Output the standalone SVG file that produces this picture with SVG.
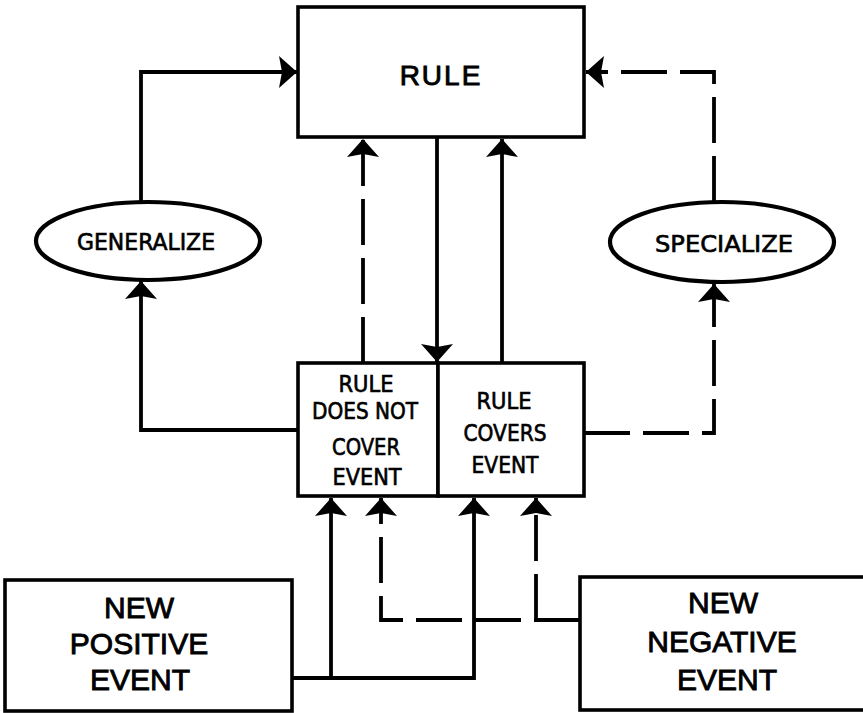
<svg xmlns="http://www.w3.org/2000/svg" width="863" height="713" viewBox="0 0 863 713">
<style>
.box{fill:#fff;stroke:#000;stroke-width:3.6}
.ell{fill:#fff;stroke:#000;stroke-width:4.2}
.big{font-family:"Liberation Sans",Arial,sans-serif;font-size:30px;fill:#000;stroke:#000;stroke-width:0.9;text-anchor:middle}
.sm{font-family:"DejaVu Sans Condensed","DejaVu Sans",sans-serif;font-stretch:condensed;font-size:23px;fill:#000;stroke:#000;stroke-width:0.6;text-anchor:middle}
.ln{fill:none;stroke:#000;stroke-width:3.8;stroke-linejoin:miter}
.ds{stroke-dasharray:46 13}
</style>
<defs>
<marker id="ah" markerUnits="userSpaceOnUse" viewBox="-20 -17 21 34" refX="0" refY="0" markerWidth="21" markerHeight="34" orient="auto">
<path d="M0,0 L-18,-16 L-15,0 L-18,16 Z" fill="#000"/>
</marker>
</defs>
<rect width="863" height="713" fill="#fff"/>
<g id="connectors">
<path class="ln" d="M141,202 V72 H297" marker-end="url(#ah)"/>
<path class="ln" d="M298,430 H141 V281" marker-end="url(#ah)"/>
<path class="ln ds" d="M363,363 V139" marker-end="url(#ah)"/>
<path class="ln" d="M437,137 V362" marker-end="url(#ah)"/>
<path class="ln" d="M502,363 V139" marker-end="url(#ah)"/>
<path class="ln ds" d="M714,202 V72 H586" marker-end="url(#ah)"/>
<path class="ln ds" d="M584,433 H714 V284" marker-end="url(#ah)"/>
<path class="ln" d="M292,678 H474 V498" marker-end="url(#ah)"/>
<path class="ln" d="M331,678 V498" marker-end="url(#ah)"/>
<path class="ln ds" d="M580,620 H381 V498" marker-end="url(#ah)"/>
<path class="ln ds" d="M536,620 V498" marker-end="url(#ah)"/>
</g>
<g id="rule">
<rect class="box" x="298" y="7" width="286" height="130"/>
<text class="big" x="441" y="85" letter-spacing="2" style="font-size:28px">RULE</text>
</g>
<g id="generalize">
<ellipse class="ell" cx="148" cy="241" rx="112" ry="39"/>
<text class="sm" x="146" y="250" textLength="138" lengthAdjust="spacingAndGlyphs">GENERALIZE</text>
</g>
<g id="specialize">
<ellipse class="ell" cx="722" cy="242" rx="112" ry="40"/>
<text class="sm" x="724" y="252" textLength="138" lengthAdjust="spacingAndGlyphs">SPECIALIZE</text>
</g>
<g id="not-cover">
<rect class="box" x="298" y="363" width="140" height="133"/>
<text class="sm" x="366" y="392" textLength="55" lengthAdjust="spacingAndGlyphs">RULE</text>
<text class="sm" x="365" y="419" textLength="106" lengthAdjust="spacingAndGlyphs">DOES NOT</text>
<text class="sm" x="366" y="455" textLength="68" lengthAdjust="spacingAndGlyphs">COVER</text>
<text class="sm" x="367" y="485" textLength="69" lengthAdjust="spacingAndGlyphs">EVENT</text>
</g>
<g id="covers">
<rect class="box" x="438" y="363" width="146" height="133"/>
<text class="sm" x="504" y="409" textLength="55" lengthAdjust="spacingAndGlyphs">RULE</text>
<text class="sm" x="505" y="441" textLength="83" lengthAdjust="spacingAndGlyphs">COVERS</text>
<text class="sm" x="505" y="473" textLength="67" lengthAdjust="spacingAndGlyphs">EVENT</text>
</g>
<g id="positive">
<rect class="box" x="5" y="580" width="287" height="131"/>
<text class="big" x="139" y="618">NEW</text>
<text class="big" x="139" y="654">POSITIVE</text>
<text class="big" x="140" y="690">EVENT</text>
</g>
<g id="negative">
<rect class="box" x="580" y="577" width="290" height="133"/>
<text class="big" x="723" y="613">NEW</text>
<text class="big" x="722" y="652">NEGATIVE</text>
<text class="big" x="727" y="690">EVENT</text>
</g>
</svg>
